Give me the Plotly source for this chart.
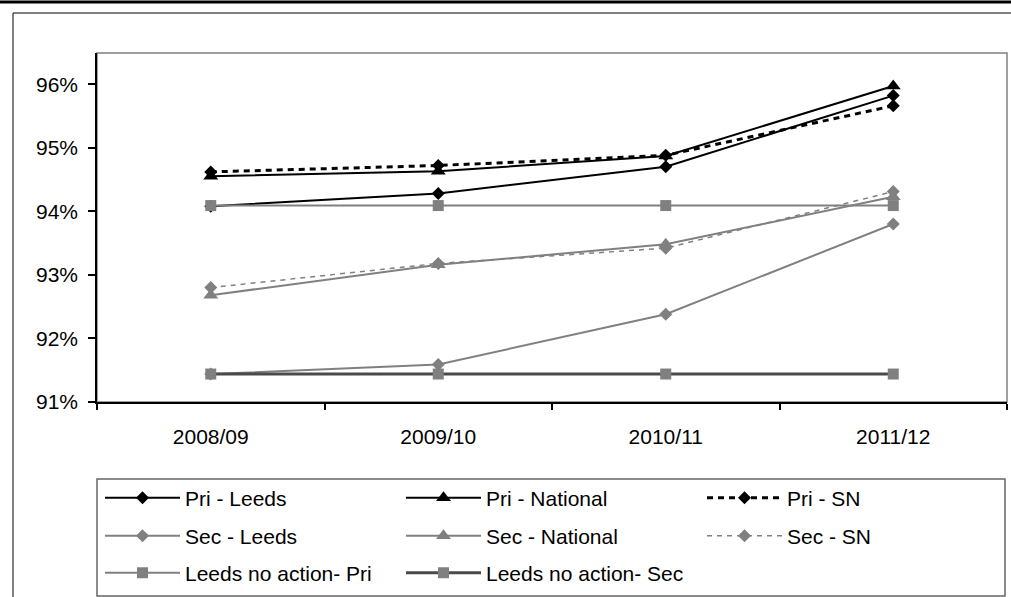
import plotly.graph_objects as go

# ---- data ----
categories = ["2008/09", "2009/10", "2010/11", "2011/12"]
pri_leeds = [94.08, 94.28, 94.70, 95.82]
pri_national = [94.55, 94.63, 94.87, 95.97]
pri_sn = [94.62, 94.72, 94.88, 95.66]
sec_leeds = [91.44, 91.59, 92.38, 93.80]
sec_national = [92.68, 93.16, 93.48, 94.23]
sec_sn = [92.80, 93.18, 93.42, 94.31]
leeds_no_action_pri = [94.09, 94.09, 94.09, 94.09]
leeds_no_action_sec = [91.44, 91.44, 91.44, 91.44]

y_ticks = [91, 92, 93, 94, 95, 96]

BLACK = "#000000"
GRAY = "#808080"
DARK = "#4a4a4a"
FONT = "Liberation Sans, Arial, sans-serif"
FS = 21

# pixel layout
W, H = 1011, 597
L, R, T, B = 97, 1007, 53, 402
pw, ph = R - L, B - T


def px(x):
    return (x - L) / pw


def py(y):
    return (B - y) / ph


series = [
    ("Pri - Leeds", pri_leeds, BLACK, 2, "solid", "diamond", 10, BLACK, "legend"),
    ("Pri - National", pri_national, BLACK, 2, "solid", "triangle-up", 13, BLACK, "legend"),
    ("Pri - SN", pri_sn, BLACK, 3, "6px,5px", "diamond", 10, BLACK, "legend"),
    ("Sec - Leeds", sec_leeds, GRAY, 2, "solid", "diamond", 10, GRAY, "legend2"),
    ("Sec - National", sec_national, GRAY, 2, "solid", "triangle-up", 13, GRAY, "legend2"),
    ("Sec - SN", sec_sn, GRAY, 1.5, "5px,5px", "diamond", 10, GRAY, "legend2"),
    ("Leeds no action- Pri", leeds_no_action_pri, GRAY, 2, "solid", "square", 11, GRAY, "legend3"),
    ("Leeds no action- Sec", leeds_no_action_sec, DARK, 3, "solid", "square", 11, GRAY, "legend3"),
]

fig = go.Figure()
for name, vals, lc, lw, dash, sym, ms, mc, lg in series:
    fig.add_trace(go.Scatter(
        x=categories, y=vals, name=name, mode="lines+markers",
        line=dict(color=lc, width=lw, dash=dash),
        marker=dict(symbol=sym, size=ms, color=mc, line=dict(width=0)),
        legend=lg, hoverinfo="x+y+name",
    ))

legend_common = dict(
    orientation="h", xanchor="left", yanchor="middle",
    bgcolor="rgba(0,0,0,0)", borderwidth=0,
    font=dict(family=FONT, size=FS, color="#000000"),
    entrywidth=211, entrywidthmode="pixels", itemwidth=75,
    traceorder="normal",
)

shapes = [
    # outer frame lines
    dict(type="line", xref="paper", yref="paper", x0=px(0), x1=px(W), y0=py(2), y1=py(2),
         line=dict(color="#000000", width=3), layer="below"),
    dict(type="line", xref="paper", yref="paper", x0=px(13), x1=px(W), y0=py(13), y1=py(13),
         line=dict(color="#000000", width=1), layer="below"),
    dict(type="line", xref="paper", yref="paper", x0=px(13), x1=px(13), y0=py(13), y1=py(H),
         line=dict(color="#000000", width=1), layer="below"),
    # plot area border
    dict(type="rect", xref="paper", yref="paper", x0=0, x1=1, y0=0, y1=1,
         line=dict(color=GRAY, width=1.5), layer="below"),
    # legend box
    dict(type="rect", xref="paper", yref="paper", x0=px(97), x1=px(1005), y0=py(479), y1=py(596),
         line=dict(color="#666666", width=1.5), layer="below"),
]

fig.update_layout(
    width=W, height=H,
    margin=dict(l=L, r=W - R, t=T, b=H - B, pad=0),
    paper_bgcolor="white", plot_bgcolor="white",
    font=dict(family=FONT, size=FS, color="#000000"),
    showlegend=True,
    legend=dict(legend_common, x=px(100), y=py(498)),
    legend2=dict(legend_common, x=px(100), y=py(536)),
    legend3=dict(legend_common, x=px(100), y=py(573)),
    shapes=shapes,
    xaxis=dict(
        type="category", range=[-0.5, 3.5], showgrid=False, zeroline=False,
        showline=True, linecolor="#000000", linewidth=1.5,
        ticks="outside", tickson="boundaries", ticklen=6, tickcolor="#000000", tickwidth=1.5,
        tickfont=dict(family=FONT, size=FS, color="#000000"),
        ticklabelstandoff=15,
    ),
    yaxis=dict(
        range=[91, 96.49], tickvals=y_ticks, ticktext=[f"{v}%" for v in y_ticks],
        showgrid=False, zeroline=False,
        showline=True, linecolor="#000000", linewidth=1.5,
        ticks="outside", ticklen=7, tickcolor="#000000", tickwidth=1.5,
        tickfont=dict(family=FONT, size=FS, color="#000000"),
        ticklabelstandoff=6,
    ),
)

fig.write_html(
    "out.html",
    config={"displayModeBar": False},
    post_script="document.body.style.margin='0px';document.body.style.overflow='hidden';",
)
